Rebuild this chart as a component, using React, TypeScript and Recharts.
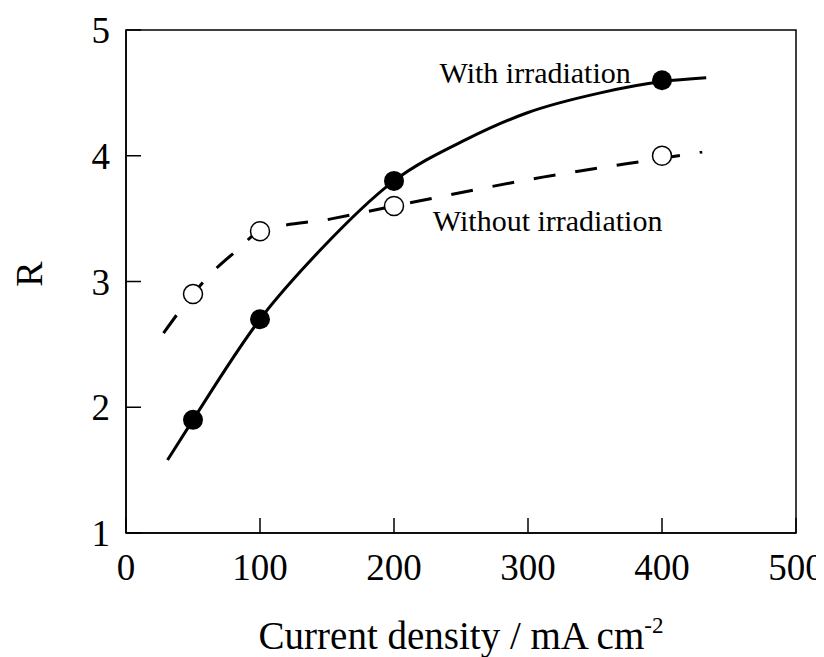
import React from "react";
import {
    ComposedChart,
    Line,
    Scatter,
    XAxis,
    YAxis,
    ReferenceArea,
    ReferenceDot,
    Label
} from "recharts";

const FONT = "'Liberation Serif', 'Times New Roman', serif";

// measured points
const withX = [50, 100, 200, 400];
const withR = [1.9, 2.7, 3.8, 4.6];
const withoutX = [50, 100, 200, 400];
const withoutR = [2.9, 3.4, 3.6, 4.0];

// fitted curves
const withCurveX = [31, 50, 100, 145, 200, 254, 299, 354, 400, 433];
const withCurveR = [1.58, 1.9, 2.7, 3.25, 3.8, 4.13, 4.34, 4.5, 4.59, 4.62];
const withoutCurveX = [28, 50, 66, 83, 100, 154, 200, 311, 400, 430];
const withoutCurveR = [2.59, 2.9, 3.09, 3.25, 3.4, 3.5, 3.6, 3.83, 3.98, 4.03];

const xTicks = [0, 100, 200, 300, 400, 500];
const yTicks = [1, 2, 3, 4, 5];

const toPts = (xs: number[], ys: number[]) => xs.map((x, i) => ({ x, r: ys[i] }));

const withPts = toPts(withX, withR);
const withoutPts = toPts(withoutX, withoutR);
const withCurve = toPts(withCurveX, withCurveR);
const withoutCurve = toPts(withoutCurveX, withoutCurveR);

const FilledDot = (props: any) => (
    <circle cx={props.cx} cy={props.cy} r={10} fill="#000" />
);

const OpenDot = (props: any) => (
    <circle cx={props.cx} cy={props.cy} r={9.5} fill="#fff" stroke="#000" strokeWidth={1.5} />
);

const XTitle = (props: any) => {
    const { x, y, width } = props.viewBox;
    return (
        <text x={x + width / 2} y={y + 116} textAnchor="middle" fontSize={39} fontFamily={FONT} fill="#000">
            Current density / mA cm
            <tspan dy={-16} fontSize={23}>-2</tspan>
        </text>
    );
};

const YTitle = (props: any) => {
    const { x } = props.viewBox;
    const cx = x + 21;
    const cy = 266;
    return (
        <text
            x={cx}
            y={cy}
            textAnchor="middle"
            dominantBaseline="central"
            fontSize={38}
            fontFamily={FONT}
            fill="#000"
            transform={`rotate(-90, ${cx}, ${cy})`}
        >
            R
        </text>
    );
};

const note = (txt: string) => (props: any) => (
    <text x={props.cx} y={props.cy} fontSize={30} fontFamily={FONT} fill="#000">
        {txt}
    </text>
);

const App: React.FC = () => {
    return (
        <div style={{ width: 816, height: 649 }}>
            <ComposedChart
                width={816}
                height={649}
                margin={{ top: 22, right: 28, left: 0, bottom: 44 }}
            >
                <XAxis
                    dataKey="x"
                    type="number"
                    domain={[0, 500]}
                    ticks={xTicks}
                    allowDataOverflow
                    height={80}
                    tickSize={-15}
                    tickMargin={36}
                    axisLine={{ stroke: "#000", strokeWidth: 1.5 }}
                    tickLine={{ stroke: "#000", strokeWidth: 1.5 }}
                    tick={{ fill: "#000", fontSize: 37, fontFamily: FONT }}
                >
                    <Label content={XTitle} />
                </XAxis>
                <YAxis
                    dataKey="r"
                    type="number"
                    domain={[1, 5]}
                    ticks={yTicks}
                    allowDataOverflow
                    width={118}
                    tickSize={-15}
                    tickMargin={31}
                    axisLine={{ stroke: "#000", strokeWidth: 1.5 }}
                    tickLine={{ stroke: "#000", strokeWidth: 1.5 }}
                    tick={{ fill: "#000", fontSize: 37, fontFamily: FONT }}
                >
                    <Label content={YTitle} />
                </YAxis>
                <ReferenceArea x1={0} x2={500} y1={1} y2={5} fill="none" stroke="#000" strokeWidth={1.5} />
                <Line
                    data={withCurve}
                    dataKey="r"
                    type="monotone"
                    stroke="#000"
                    strokeWidth={3}
                    dot={false}
                    isAnimationActive={false}
                />
                <Line
                    data={withoutCurve}
                    dataKey="r"
                    type="monotone"
                    stroke="#000"
                    strokeWidth={3}
                    strokeDasharray="22 20"
                    dot={false}
                    isAnimationActive={false}
                />
                <Scatter data={withPts} dataKey="r" shape={FilledDot} isAnimationActive={false} />
                <Scatter data={withoutPts} dataKey="r" shape={OpenDot} isAnimationActive={false} />
                <ReferenceDot x={234} y={4.58} r={0} shape={note("With irradiation")} />
                <ReferenceDot x={229} y={3.4} r={0} shape={note("Without irradiation")} />
            </ComposedChart>
        </div>
    );
};

export default App;
